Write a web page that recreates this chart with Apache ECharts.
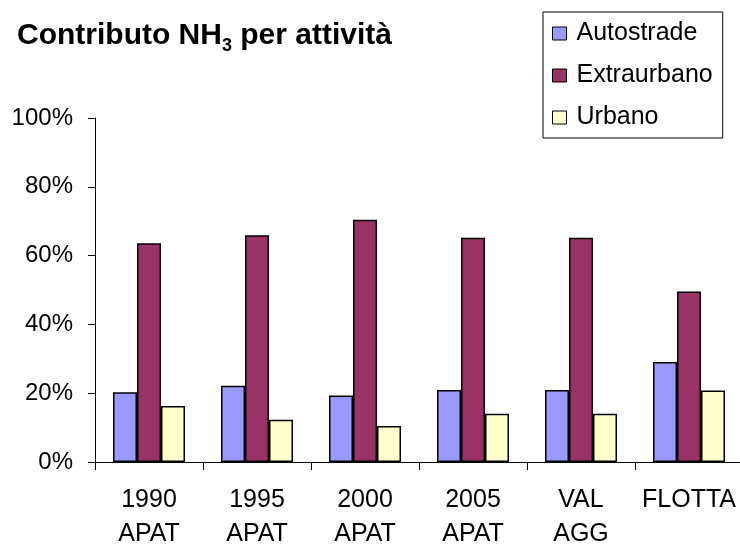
<!DOCTYPE html>
<html>
<head>
<meta charset="utf-8">
<script src="https://cdn.jsdelivr.net/npm/echarts@6/dist/echarts.min.js"></script>
<style>
  html, body { margin: 0; padding: 0; background: #fff; }
  #chart { width: 740px; height: 544px; }
</style>
</head>
<body>
<div id="chart"></div>
<script>
const categories = ['1990\nAPAT', '1995\nAPAT', '2000\nAPAT', '2005\nAPAT', 'VAL\nAGG', 'FLOTTA'];
const autostrade = [20.3, 22.2, 19.3, 20.9, 20.9, 29.1];
const extraurbano = [63.6, 65.9, 70.4, 65.2, 65.2, 49.6];
const urbano = [16.3, 12.3, 10.5, 14.0, 14.0, 20.8];

const font = 'Arial, "Liberation Sans", sans-serif';

const chart = echarts.init(document.getElementById('chart'));

// una serie per attività, colori stile Excel
const makeSeries = (name, data, color) => ({
    name: name,
    type: 'bar',
    data: data,
    barWidth: 24,
    barGap: '0%',
    itemStyle: { color: color, borderColor: '#000', borderWidth: 1.5 }
});

const option = {
    animation: false,
    textStyle: { fontFamily: font },
    title: {
        text: '{t|Contributo NH}{s|3}{t| per attività}',
        left: 17,
        top: 21,
        padding: 0,
        textStyle: {
            rich: {
                t: { fontFamily: font, fontSize: 30, fontWeight: 'bold', color: '#000', lineHeight: 32, verticalAlign: 'top' },
                s: { fontFamily: font, fontSize: 18, fontWeight: 'bold', color: '#000', lineHeight: 18, padding: [16, 0, 0, 0], verticalAlign: 'top' }
            }
        }
    },
    legend: {
        orient: 'vertical',
        left: 543,
        top: 12,
        padding: [9, 10, 8, 9],
        itemGap: 17,
        itemWidth: 14,
        itemHeight: 13,
        icon: 'rect',
        borderColor: '#000',
        borderWidth: 1,
        textStyle: { fontFamily: font, fontSize: 25, color: '#000', lineHeight: 25, padding: [0, 0, 0, 5] },
        itemStyle: { borderColor: '#000', borderWidth: 1 },
        data: ['Autostrade', 'Extraurbano', 'Urbano']
    },
    grid: {
        left: 95,
        top: 118,
        width: 648,
        height: 344,
        containLabel: false,
        outerBoundsMode: 'none'
    },
    xAxis: {
        type: 'category',
        data: categories,
        axisLine: { lineStyle: { color: '#000', width: 1 } },
        axisTick: { show: true, length: 8, lineStyle: { color: '#000' } },
        axisLabel: {
            margin: 21,
            fontFamily: font,
            fontSize: 25,
            lineHeight: 34,
            color: '#000',
            interval: 0
        }
    },
    yAxis: {
        type: 'value',
        min: 0,
        max: 100,
        interval: 20,
        splitLine: { show: false },
        axisLine: { show: true, lineStyle: { color: '#000', width: 1 } },
        axisTick: { show: true, length: 7, lineStyle: { color: '#000' } },
        axisLabel: {
            margin: 22,
            fontFamily: font,
            fontSize: 24,
            color: '#000',
            formatter: '{value}%'
        }
    },
    series: [
        makeSeries('Autostrade', autostrade, '#9999FF'),
        makeSeries('Extraurbano', extraurbano, '#993366'),
        makeSeries('Urbano', urbano, '#FFFFCC')
    ]
};

chart.setOption(option);
</script>
</body>
</html>
